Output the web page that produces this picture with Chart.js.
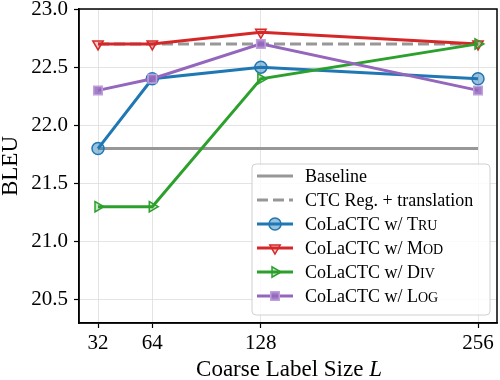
<!DOCTYPE html>
<html>
<head>
<meta charset="utf-8">
<script src="https://cdn.jsdelivr.net/npm/chart.js@4.4.1/dist/chart.umd.min.js"></script>
<style>
  html, body { margin: 0; padding: 0; background: #ffffff; }
  #wrap { width: 500px; height: 380px; }
</style>
</head>
<body>
<div id="wrap"><canvas id="c" width="500" height="380"></canvas></div>
<script>
// ---- data ----
const xValues = [32, 64, 128, 256];
const xTicks = [32, 64, 128, 256];
const yTicks = [20.5, 21.0, 21.5, 22.0, 22.5, 23.0];
const seriesLabels = ['Baseline', 'CTC Reg. + translation', 'CoLaCTC w/ Tru', 'CoLaCTC w/ Mod', 'CoLaCTC w/ Div', 'CoLaCTC w/ Log'];
const baselineVals = [21.8, 21.8, 21.8, 21.8];
const ctcRegVals = [22.7, 22.7, 22.7, 22.7];
const truVals = [21.8, 22.4, 22.5, 22.4];
const modVals = [22.7, 22.7, 22.8, 22.7];
const divVals = [21.3, 21.3, 22.4, 22.7];
const logVals = [22.3, 22.4, 22.7, 22.3];
const smallCapsWords = ['Tru', 'Mod', 'Div', 'Log'];
const xTitle = 'Coarse Label Size ';
const xTitleVar = 'L';
const yTitle = 'BLEU';

const FONT = '"Liberation Serif", "Times New Roman", serif';
const GRAY = '#979797';
const styles = [
  { color: GRAY, dash: [], point: false },
  { color: GRAY, dash: [11, 5], point: false },
  { color: '#1f77b4', fill: 'rgba(31,119,180,0.45)', point: 'circle', rot: 0 },
  { color: '#d62728', fill: 'rgba(214,39,40,0.25)', point: 'triangle', rot: 180 },
  { color: '#2ca02c', fill: 'rgba(44,160,44,0.25)', point: 'triangle', rot: 90 },
  { color: '#9467bd', fill: 'rgba(148,103,189,0.85)', point: 'rect', rot: 0, border: 'rgba(190,160,220,1)' }
];
const allVals = [baselineVals, ctcRegVals, truVals, modVals, divVals, logVals];

const datasets = allVals.map((vals, i) => {
  const s = styles[i];
  return {
    label: seriesLabels[i],
    data: xValues.map((x, j) => ({ x: x, y: vals[j] })),
    borderColor: s.color,
    backgroundColor: s.fill || s.color,
    borderWidth: 3,
    borderDash: s.dash || [],
    pointRadius: s.point ? 6 : 0,
    pointStyle: s.point || 'circle',
    pointRotation: s.rot || 0,
    pointBackgroundColor: s.fill || s.color,
    pointBorderColor: s.border || s.color,
    pointBorderWidth: 1.5,
    tension: 0,
    fill: false,
    clip: false,
    order: allVals.length - i
  };
});

const framePlugin = {
  id: 'frame',
  afterDraw(chart) {
    const ctx = chart.ctx;
    const a = chart.chartArea;
    ctx.save();
    ctx.strokeStyle = '#000';
    ctx.lineWidth = 1.5;
    ctx.strokeRect(a.left, a.top, a.right - a.left, a.bottom - a.top);

    // legend
    const lx = 252, ly = 164, lw = 238, lh = 151, r = 4;
    ctx.beginPath();
    ctx.moveTo(lx + r, ly);
    ctx.arcTo(lx + lw, ly, lx + lw, ly + lh, r);
    ctx.arcTo(lx + lw, ly + lh, lx, ly + lh, r);
    ctx.arcTo(lx, ly + lh, lx, ly, r);
    ctx.arcTo(lx, ly, lx + lw, ly, r);
    ctx.closePath();
    ctx.fillStyle = 'rgba(255,255,255,0.85)';
    ctx.fill();
    ctx.strokeStyle = '#d0d0d0';
    ctx.lineWidth = 1;
    ctx.stroke();

    const fs = 18;
    seriesLabels.forEach((lab, i) => {
      const s = styles[i];
      const y = 176 + i * 24;
      ctx.save();
      ctx.strokeStyle = s.color;
      ctx.lineWidth = 3;
      ctx.setLineDash(s.dash || []);
      ctx.beginPath();
      ctx.moveTo(257, y);
      ctx.lineTo(293, y);
      ctx.stroke();
      ctx.setLineDash([]);
      if (s.point) {
        ctx.fillStyle = s.fill;
        ctx.strokeStyle = s.border || s.color;
        ctx.lineWidth = 1.5;
        Chart.helpers.drawPoint(ctx, { pointStyle: s.point, radius: 6, rotation: s.rot, borderWidth: 1.5 }, 275, y);
      }
      ctx.restore();
      // text with small caps
      ctx.fillStyle = '#000';
      ctx.textBaseline = 'alphabetic';
      ctx.textAlign = 'left';
      let x = 305;
      const base = y + 6;
      const words = lab.split(' ');
      words.forEach((w, k) => {
        const txt = (k < words.length - 1) ? w + ' ' : w;
        if (smallCapsWords.indexOf(w) >= 0) {
          ctx.font = fs + 'px ' + FONT;
          ctx.fillText(w[0], x, base);
          x += ctx.measureText(w[0]).width;
          ctx.font = Math.round(fs * 0.8) + 'px ' + FONT;
          const rest = w.slice(1).toUpperCase();
          ctx.fillText(rest, x, base);
          x += ctx.measureText(rest).width;
        } else {
          ctx.font = fs + 'px ' + FONT;
          ctx.fillText(txt, x, base);
          x += ctx.measureText(txt).width;
        }
      });
    });

    // x title
    ctx.fillStyle = '#000';
    ctx.font = '23px ' + FONT;
    const w1 = ctx.measureText(xTitle).width;
    ctx.font = 'italic 23px ' + FONT;
    const w2 = ctx.measureText(xTitleVar).width;
    let sx = 289 - (w1 + w2) / 2;
    ctx.textAlign = 'left';
    ctx.textBaseline = 'alphabetic';
    ctx.font = '23px ' + FONT;
    ctx.fillText(xTitle, sx, 376);
    ctx.font = 'italic 23px ' + FONT;
    ctx.fillText(xTitleVar, sx + w1, 376);

    // y title
    ctx.save();
    ctx.translate(17, 166);
    ctx.rotate(-Math.PI / 2);
    ctx.font = '23px ' + FONT;
    ctx.textAlign = 'center';
    ctx.fillText(yTitle, 0, 0);
    ctx.restore();
    ctx.restore();
  }
};

new Chart(document.getElementById('c'), {
  type: 'line',
  data: { datasets: datasets },
  options: {
    responsive: false,
    animation: false,
    devicePixelRatio: 1,
    layout: { autoPadding: false, padding: { left: 0, right: 3, top: 9, bottom: 0 } },
    plugins: { legend: { display: false }, tooltip: { enabled: false } },
    scales: {
      x: {
        type: 'linear',
        min: 20.8,
        max: 267.2,
        afterBuildTicks(scale) { scale.ticks = xTicks.map(v => ({ value: v })); },
        afterFit(scale) { scale.height = 57; scale.paddingLeft = 0; scale.paddingRight = 0; scale.paddingTop = 0; scale.paddingBottom = 0; },
        ticks: {
          color: '#000',
          font: { family: FONT, size: 21 },
          padding: 3,
          maxRotation: 0,
          autoSkip: false,
          callback: v => String(v)
        },
        grid: { color: '#dddddd', lineWidth: 0.8, tickLength: 5, tickColor: '#000', tickWidth: 1.2, drawTicks: true },
        border: { display: true, color: '#000', width: 1.5 }
      },
      y: {
        min: 20.3,
        max: 23.0,
        afterBuildTicks(scale) { scale.ticks = yTicks.map(v => ({ value: v })); },
        afterFit(scale) { scale.width = 79; scale.paddingTop = 0; scale.paddingBottom = 0; scale.paddingLeft = 0; scale.paddingRight = 0; },
        ticks: {
          color: '#000',
          font: { family: FONT, size: 21 },
          padding: 6,
          autoSkip: false,
          callback: v => Number(v).toFixed(1)
        },
        grid: { color: '#dddddd', lineWidth: 0.8, tickLength: 5, tickColor: '#000', tickWidth: 1.2, drawTicks: true },
        border: { display: true, color: '#000', width: 1.5 }
      }
    }
  },
  plugins: [framePlugin]
});
</script>
</body>
</html>
